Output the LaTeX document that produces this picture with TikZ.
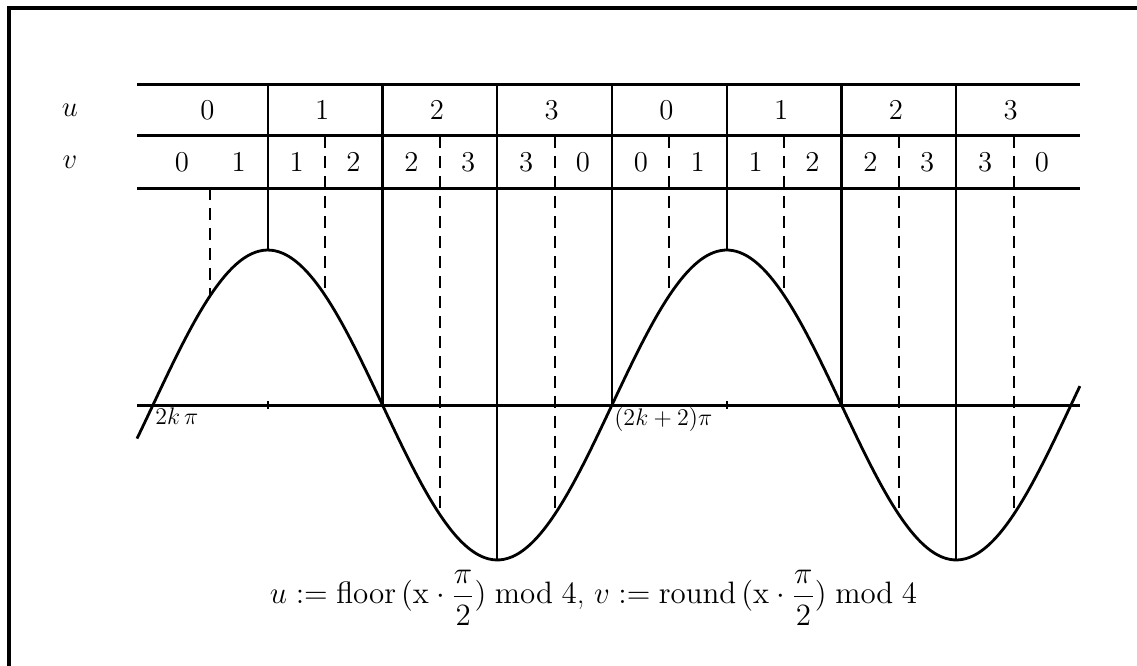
\RequirePackage{fix-cm}
\documentclass[tikz,border=0pt]{standalone}
\usepackage{amsmath}
\usepackage{tikz}
\usetikzlibrary{positioning}
\definecolor{ink}{HTML}{000000}
\tikzset{
  frameline/.style={draw=ink,line width=2pt},
  rowrule/.style={draw=ink,line width=1.5pt},
  celldiv/.style={draw=ink,line width=1.1pt},
  halfdiv/.style={draw=ink,line width=1.1pt,dash pattern=on 6pt off 4pt},
  wave/.style={draw=ink,line width=1.4pt},
  cell/.style={font=\Large,inner sep=0pt,text=ink},
  rowlabel/.style={font=\Large,inner sep=0pt,text=ink},
  axislabel/.style={font=\large,inner sep=1pt,anchor=north west,text=ink},
}
\newcommand{\qstep}{1.00923}
\newcommand{\ampl}{2.726}

\begin{document}
\begin{tikzpicture}
  \useasboundingbox (-2.691,-4.591) rectangle (17.309,7.124);
  % outer frame, cut by the page on the right and at the bottom
  \draw[frameline] (-2.524,-6) rectangle (19,6.992);
  % table rules and the axis
  \draw[rowrule] (-0.281,5.629) -- (16.306,5.629);
  \draw[rowrule] (-0.281,4.732) -- (16.306,4.732);
  \draw[rowrule] (-0.281,3.817) -- (16.306,3.817);
  \draw[rowrule] (-0.281,0) -- (16.306,0);
  \foreach \n in {1,5}
    \draw[celldiv] (2*\n*\qstep,-0.07) -- (2*\n*\qstep,0.07);
  % row names
  \node[rowlabel] (ulab)at(-1.46,5.18) {$u$};
  \node[rowlabel] (vlab)at(-1.46,4.27) {$v$};
  % cell entries
  \foreach \i in {0,...,7}{
    \pgfmathsetmacro{\xc}{(2*\i+1)*\qstep}
    \pgfmathtruncatemacro{\ua}{mod(\i,4)}
    \pgfmathtruncatemacro{\vb}{mod(\i+1,4)}
    \node[cell] (u\i)at(\xc-0.05,5.18) {$\ua$};
    \node[cell] (vl\i)at(\xc-0.5,4.27) {$\ua$};
    \node[cell] (vr\i)at(\xc+0.5,4.27) {$\vb$};
  }
  % u boundaries down to the curve
  \foreach \n in {1,...,7}
    \draw[celldiv] (2*\n*\qstep,5.629) -- (2*\n*\qstep,{\ampl*sin(90*\n)});
  % v boundaries, dashed
  \foreach \n in {0,...,7}{
    \pgfmathsetmacro{\xd}{(2*\n+1)*\qstep}
    \pgfmathsetmacro{\ytop}{\n==0 ? 3.817 : 4.732}
    \draw[halfdiv] (\xd,\ytop) -- (\xd,{\ampl*sin(45*(2*\n+1))});
  }
  % the sine
  \draw[wave] plot[domain=-0.281:16.306,samples=240,smooth]
    (\x,{\ampl*sin(90*\x/(2*\qstep))});
  \node[axislabel] (zero)at(0,0) {$2k\,\pi$};
  \node[axislabel] (twopi)at(8*\qstep,0) {$(2k+2)\pi$};
  \node[font=\fontsize{15.5}{19}\selectfont,anchor=base,text=ink] (rule)at(7.75,-3.50)
    {$u \mathrel{:=} \mathrm{floor}\,(\mathrm{x}\cdot\dfrac{\pi}{2}) \bmod 4$, $v \mathrel{:=} \mathrm{round}\,(\mathrm{x}\cdot\dfrac{\pi}{2}) \bmod 4$};
\end{tikzpicture}
\end{document}
